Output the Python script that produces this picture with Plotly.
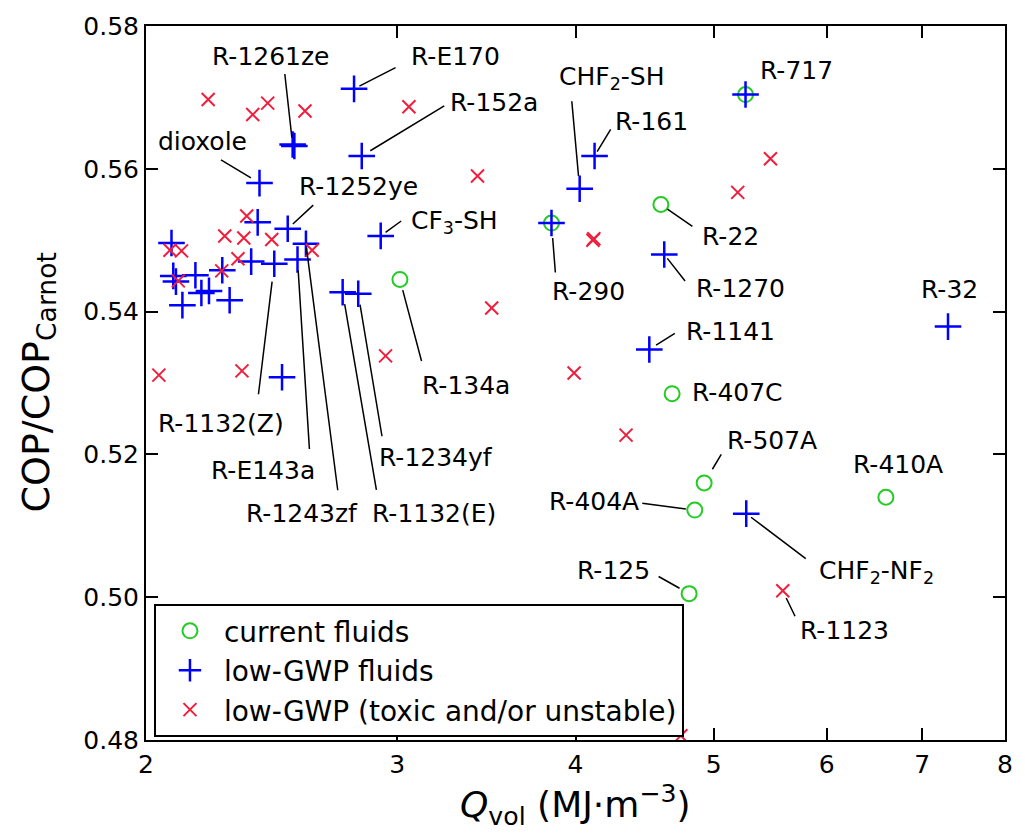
import math
import plotly.graph_objects as go

# ---------------- data ----------------
current_x = [5.263, 3.848, 4.591, 3.013, 4.675, 4.923, 4.849, 6.601, 4.805]
current_y = [0.5704, 0.5524, 0.5550, 0.5445, 0.5285, 0.5160, 0.5122, 0.5140, 0.5005]
current_names = ["R-717", "R-290", "R-22", "R-134a", "R-407C", "R-507A", "R-404A", "R-410A", "R-125"]

lowgwp_x = [5.263, 3.848, 2.798, 2.534, 2.541, 2.833, 2.402, 2.395, 2.514, 2.589,
            2.084, 2.921, 2.370, 2.460, 2.554, 2.090, 2.166, 2.262, 2.099, 2.187,
            2.214, 2.289, 2.121, 2.747, 2.817, 2.491, 4.125, 4.027, 4.616, 4.506,
            7.297, 5.269]
lowgwp_y = [0.5704, 0.5524, 0.5712, 0.5634, 0.5632, 0.5618, 0.5580, 0.5525, 0.5516, 0.5495,
            0.5496, 0.5506, 0.5470, 0.5467, 0.5473, 0.5450, 0.5451, 0.5458, 0.5442, 0.5426,
            0.5429, 0.5416, 0.5409, 0.5427, 0.5425, 0.5308, 0.5618, 0.5572, 0.5480, 0.5347,
            0.5379, 0.5117]
lowgwp_names = ["", "", "R-E170", "R-1261ze", "", "R-152a", "dioxole", "", "R-1252ye", "R-1243zf",
                "", "CF3-SH", "", "R-1132(Z)", "R-E143a", "", "", "", "", "",
                "", "", "", "R-1132(E)", "R-1234yf", "", "R-161", "CHF2-SH", "R-1270", "R-1141",
                "R-32", "CHF2-NF2"]

toxic_x = [2.211, 2.376, 2.434, 2.585, 3.057, 2.353, 2.271, 2.342, 2.450, 2.079,
           2.118, 2.615, 2.320, 2.260, 2.107, 2.042, 2.335, 2.944, 3.415, 3.494,
           4.114, 4.120, 5.197, 5.479, 3.991, 4.340, 5.589, 4.741]
toxic_y = [0.5697, 0.5676, 0.5692, 0.5681, 0.5687, 0.5534, 0.5506, 0.5503, 0.5501, 0.5486,
           0.5485, 0.5486, 0.5474, 0.5457, 0.5443, 0.5311, 0.5317, 0.5338, 0.5590, 0.5405,
           0.5500, 0.5502, 0.5567, 0.5614, 0.5314, 0.5227, 0.5009, 0.4806]
toxic_names = [""] * 26 + ["R-1123", ""]

x_ticks = [2, 3, 4, 5, 6, 7, 8]
y_ticks = [0.48, 0.50, 0.52, 0.54, 0.56, 0.58]

# ------------- label layout (pixel offsets) -------------
# name: (display text, text xshift, text yshift, leader line (ax, ay, standoff) or None)
label_layout = {
    "R-1261ze": ("R-1261ze", -22, 88, (-8, -72, 7)),
    "R-E170": ("R-E170", 101, 32, (43, -22, 6)),
    "R-152a": ("R-152a", 132, 53, (84, -51, 10)),
    "dioxole": ("dioxole", -57, 42, (-40, -24, 10)),
    "R-1252ye": ("R-1252ye", 71, 42, (27, -25, 7)),
    "CF3-SH": ("CF<sub>3</sub>-SH", 74, 14, (22, -16, 6)),
    "CHF2-SH": ("CHF<sub>2</sub>-SH", 32, 111, (-8, -89, 13)),
    "R-161": ("R-161", 57, 34, (17, -28, 5)),
    "R-22": ("R-22", 70, -32, (33, 23, 8)),
    "R-290": ("R-290", 37, -68, (4, 51, 15)),
    "R-1270": ("R-1270", 76, -34, (22, 28, 5)),
    "R-717": ("R-717", 51, 24, None),
    "R-32": ("R-32", 1, 37, None),
    "R-1141": ("R-1141", 81, 18, (27, -17, 8)),
    "R-407C": ("R-407C", 65, 1, None),
    "R-507A": ("R-507A", 68, 42, (18, -30, 16)),
    "R-410A": ("R-410A", 12, 33, None),
    "R-404A": ("R-404A", -101, 9, (-54, -7, 9)),
    "CHF2-NF2": ("CHF<sub>2</sub>-NF<sub>2</sub>", 130, -58, (61, 46, 6)),
    "R-125": ("R-125", -76, 23, (-32, -18, 11)),
    "R-1123": ("R-1123", 62, -40, (13, 27, 8)),
    "R-134a": ("R-134a", 66, -106, (22, 83, 11)),
    "R-1132(Z)": ("R-1132(Z)", -53, -160, (-16, 132, 18)),
    "R-E143a": ("R-E143a", -35, -211, (12, 191, 11)),
    "R-1243zf": ("R-1243zf", -4, -270, (32, 248, 4)),
    "R-1132(E)": ("R-1132(E)", 91, -221, (34, 199, 12)),
    "R-1234yf": ("R-1234yf", 78, -164, (24, 144, 11)),
}

FONT = "DejaVu Sans"
LBL = 25

fig = go.Figure()
fig.add_trace(go.Scatter(
    x=current_x, y=current_y, mode="markers", name="current fluids",
    legendgroup="a",
    marker=dict(symbol="circle-open", size=15, color="#22cc22", line=dict(width=2, color="#22cc22")),
))
fig.add_trace(go.Scatter(
    x=lowgwp_x, y=lowgwp_y, mode="markers", name="low-GWP fluids",
    legendgroup="b",
    marker=dict(symbol="cross-thin-open", size=19, color="#0000ff", line=dict(width=2.5, color="#0000ff")),
))
fig.add_trace(go.Scatter(
    x=toxic_x, y=toxic_y, mode="markers", name="low-GWP (toxic and/or unstable)",
    legendgroup="c",
    marker=dict(symbol="x-thin-open", size=13, color="#f01e3c", line=dict(width=2, color="#f01e3c")),
))

annotations = []
done = set()
for xs, ys, ns in [(current_x, current_y, current_names),
                   (lowgwp_x, lowgwp_y, lowgwp_names),
                   (toxic_x, toxic_y, toxic_names)]:
    for xv, yv, nm in zip(xs, ys, ns):
        if not nm or nm in done or nm not in label_layout:
            continue
        done.add(nm)
        txt, xsft, ysft, line = label_layout[nm]
        lx = math.log10(xv)
        annotations.append(dict(
            x=lx, y=yv, xref="x", yref="y", text=txt, showarrow=False,
            xshift=xsft, yshift=ysft, font=dict(family=FONT, size=LBL, color="black"),
        ))
        if line is not None:
            ax, ay, so = line
            annotations.append(dict(
                x=lx, y=yv, xref="x", yref="y", text="", showarrow=True,
                ax=ax, ay=ay, arrowhead=0, arrowwidth=1.5, arrowcolor="black",
                standoff=so,
            ))

# axis titles
annotations.append(dict(
    xref="paper", yref="paper", x=(37 - 146) / 863, y=0.5, textangle=-90,
    text="COP/COP<sub>Carnot</sub>", showarrow=False,
    font=dict(family=FONT, size=38, color="black"), xanchor="center", yanchor="middle",
))
annotations.append(dict(
    xref="paper", yref="paper", x=0.5, y=(740 - 806) / 720,
    text="<i>Q</i><sub>vol</sub> (MJ·m<sup>−3</sup>)", showarrow=False,
    font=dict(family=FONT, size=36, color="black"), xanchor="center", yanchor="middle",
))

axis_common = dict(
    showline=True, linecolor="black", linewidth=2, mirror="ticks",
    ticks="inside", ticklen=12, tickwidth=1.5, tickcolor="black",
    showgrid=False, zeroline=False,
    tickfont=dict(family=FONT, size=25, color="black"),
)

fig.update_layout(
    width=1025, height=839,
    margin=dict(l=146, r=16, t=20, b=99),
    paper_bgcolor="white", plot_bgcolor="white",
    font=dict(family=FONT, size=LBL, color="black"),
    xaxis=dict(type="log", range=[math.log10(2), math.log10(8)],
               tickvals=x_ticks, ticktext=[str(v) for v in x_ticks],
               ticklabelstandoff=1, **axis_common),
    yaxis=dict(range=[0.48, 0.58], tickvals=y_ticks,
               ticktext=["%.2f" % v for v in y_ticks],
               ticklabelstandoff=0, **axis_common),
    legend=dict(
        x=(154 - 146) / 863, y=(740 - 603) / 720, xanchor="left", yanchor="top",
        bordercolor="black", borderwidth=2, bgcolor="white",
        font=dict(family=FONT, size=28, color="black"),
        tracegroupgap=0, itemwidth=58,
    ),
    annotations=annotations,
    showlegend=True,
)

fig.write_html("out.html")
